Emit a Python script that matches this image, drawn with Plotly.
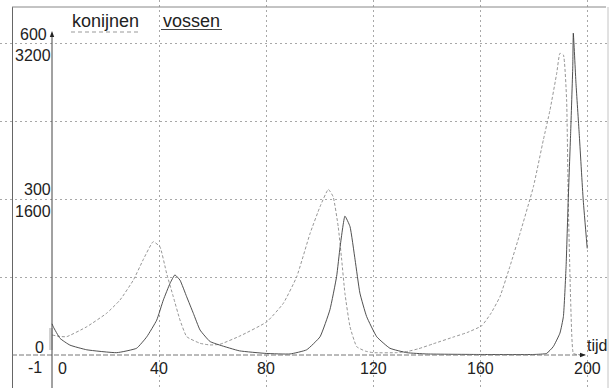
import plotly.graph_objects as go

# ---- data ----
t_konijnen = [0, 3, 5.5, 13, 20.4, 25.4, 30.4, 34, 37.8, 40.3, 42.8, 45.3, 47.8, 50.3, 55.3, 59, 62.7,
              70.2, 80.2, 86.4, 91.4, 96.4, 100.1, 103.2, 105, 106.9, 108.2, 109.4, 111.3, 113.8, 117,
              120, 128.7, 133, 137, 142.4, 150, 155, 160.5, 164, 167.3, 171, 174.8, 179.8, 183.5, 186, 188.5,
              189.7, 191, 192.2, 192.8, 193.7, 194.7, 196, 199]
konijnen = [205, 190, 188, 290, 428, 564, 769, 974, 1162, 1111, 838, 598, 359, 188, 120, 103, 110,
            195, 340, 530, 803, 1248, 1521, 1699, 1624, 1316, 974, 633, 290, 85, 40,
            24, 24, 38, 65, 115, 185, 230, 300, 430, 598, 906, 1248, 1726, 2205, 2513, 2889,
            3094, 3077, 2615, 1590, 564, 17, 5, 5]

t_vossen = [0, 0.5, 3, 6.7, 13, 24.2, 31.6, 35.4, 39.1, 41.6, 44.1, 45.9, 47.8, 50.3, 52.8, 55.3, 59,
            62.7, 70, 80, 88.9, 95.1, 100.1, 103.8, 106.3, 107.6, 109.4, 111.3, 113.2, 115, 117.5,
            121.3, 126.2, 132.5, 140, 160, 180, 184.7, 187.2, 189.7, 191, 192, 192.8, 193.7, 194.5,
            194.7, 195.7, 196.9, 198.4, 199.9]
vossen = [60, 54, 32, 19, 10, 4.5, 13, 35, 67, 106, 138, 154, 144, 112, 80, 48, 26,
          19, 8, 3, 2, 10, 35, 87, 151, 208, 267, 247, 183, 119, 74,
          35, 13, 4.5, 2, 1, 1, 3, 16, 42, 74, 170, 298, 426, 554,
          619, 522, 426, 298, 205]

x_tick_vals = [40, 80, 120, 160, 200]
x_tick_text = ["40", "80", "120", "160", "200"]
y_left_labels = [("600", "3200"), ("300", "1600")]
legend_names = ["konijnen", "vossen"]

W, H = 610, 388
X0_PX, PX_PER_T = 52.0, 2.6775
Y0_PX, FULL_PX = 355.0, 312.0
R_MAX, F_MAX = 3200, 600

def px_to_t(px):
    return (px - X0_PX) / PX_PER_T

def py_to_r(py):
    return (Y0_PX - py) / FULL_PX * R_MAX

def py_to_f(py):
    return (Y0_PX - py) / FULL_PX * F_MAX

def xp(px):
    return px / W

def yp(py):
    return 1 - py / H

FONT = "Liberation Sans, Arial, sans-serif"

fig = go.Figure()
fig.add_trace(go.Scatter(x=t_konijnen, y=konijnen, mode="lines", name=legend_names[0],
                         line=dict(color="#8a8a8a", width=0.9, dash="3px,2px", shape="spline", smoothing=0.4),
                         yaxis="y", showlegend=False))
fig.add_trace(go.Scatter(x=t_vossen, y=vossen, mode="lines", name=legend_names[1],
                         line=dict(color="#3c3c3c", width=0.9, shape="spline", smoothing=0.4),
                         yaxis="y2", showlegend=False))

grid = dict(showgrid=True, gridcolor="#a8a8a8", gridwidth=1, griddash="2px,3px",
            showticklabels=False, ticks="", zeroline=False, showline=False)
fig.update_layout(
    width=W, height=H, margin=dict(l=0, r=0, t=0, b=0),
    paper_bgcolor="white", plot_bgcolor="white",
    xaxis=dict(range=[px_to_t(0), px_to_t(W)], tickvals=x_tick_vals, **grid),
    yaxis=dict(range=[py_to_r(H), py_to_r(0)], tickvals=[800, 1600, 2400, 3200], **grid),
    yaxis2=dict(range=[py_to_f(H), py_to_f(0)], overlaying="y", showgrid=False,
                showticklabels=False, ticks="", zeroline=False, showline=False),
    font=dict(family=FONT, size=16, color="#222"),
)

shapes = []
# outer frame
shapes.append(dict(type="line", xref="paper", yref="paper", x0=xp(12.5), x1=xp(12.5), y0=yp(7), y1=0,
                   line=dict(color="#666", width=1)))
shapes.append(dict(type="line", xref="paper", yref="paper", x0=xp(12), x1=xp(606), y0=yp(7), y1=yp(7),
                   line=dict(color="#888", width=1)))
shapes.append(dict(type="line", xref="paper", yref="paper", x0=xp(608), x1=xp(608), y0=yp(7), y1=0,
                   line=dict(color="#c4c4c4", width=1)))
# start highlight
shapes.append(dict(type="rect", xref="paper", yref="paper", x0=xp(49), x1=xp(53), y0=yp(350), y1=yp(328),
                   fillcolor="#d2d2d2", line=dict(width=0), layer="below"))
# x axis line
shapes.append(dict(type="line", xref="paper", yref="paper", x0=xp(12), x1=xp(583), y0=yp(355), y1=yp(355),
                   line=dict(color="#777", width=1, dash="5px,2px")))
# y axis line
shapes.append(dict(type="line", xref="paper", yref="paper", x0=xp(52), x1=xp(52), y0=0, y1=yp(35),
                   line=dict(color="#444", width=1)))
# legend underlines
shapes.append(dict(type="line", xref="paper", yref="paper", x0=xp(71), x1=xp(139), y0=yp(32), y1=yp(32),
                   line=dict(color="#999", width=1, dash="4px,3px")))
shapes.append(dict(type="line", xref="paper", yref="paper", x0=xp(161), x1=xp(222), y0=yp(29.5), y1=yp(29.5),
                   line=dict(color="#444", width=1.2)))
# arrowheads
shapes.append(dict(type="path", xref="paper", yref="paper",
                   path=f"M {xp(49.8)},{yp(37)} L {xp(54.2)},{yp(37)} L {xp(52)},{yp(31)} Z",
                   fillcolor="#222", line=dict(width=0)))
shapes.append(dict(type="path", xref="paper", yref="paper",
                   path=f"M {xp(580)},{yp(352.8)} L {xp(580)},{yp(357.2)} L {xp(586)},{yp(355)} Z",
                   fillcolor="#222", line=dict(width=0)))
fig.update_layout(shapes=shapes)

ann = []
def label(text, px, py, anchor="center", size=16):
    ann.append(dict(text=text, xref="paper", yref="paper", x=xp(px), y=yp(py), showarrow=False,
                    xanchor=anchor, yanchor="middle", font=dict(family=FONT, size=size, color="#222")))

# y labels
label(y_left_labels[0][0], 48.5, 34, "right")
label(y_left_labels[0][1], 52.5, 56, "right")
label(y_left_labels[1][0], 52.5, 189, "right")
label(y_left_labels[1][1], 52.5, 212, "right")
label("0", 46, 347, "right")
# x labels
label("-1", 43.5, 367, "right")
label("0", 62, 368)
for v, txt in zip(x_tick_vals, x_tick_text):
    label(txt, X0_PX + v * PX_PER_T, 368)
label("tijd", 585, 345, "left")
# legend texts
label(legend_names[0], 70, 21, "left", 18)
label(legend_names[1], 160.5, 21, "left", 18)
fig.update_layout(annotations=ann)

fig.write_html("out.html")
